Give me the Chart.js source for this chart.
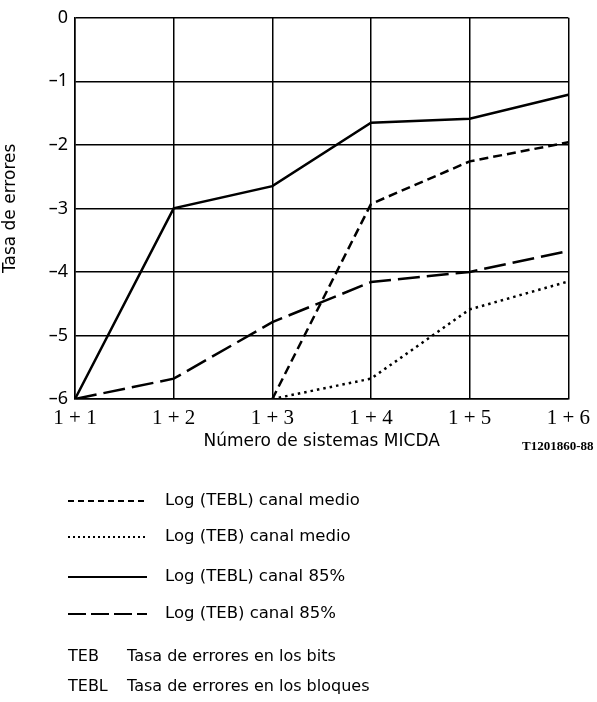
<!DOCTYPE html>
<html>
<head>
<meta charset="utf-8">
<script src="https://cdn.jsdelivr.net/npm/chart.js@4.4.0/dist/chart.umd.min.js"></script>
<style>
  html, body { margin: 0; padding: 0; background: #fff; }
  #wrap { position: relative; width: 597px; height: 702px; }
</style>
</head>
<body>
<div id="wrap"><canvas id="myChart" width="597" height="702"></canvas></div>
<script>
  // categorias y valores
  var categorias = ['1 + 1', '1 + 2', '1 + 3', '1 + 4', '1 + 5', '1 + 6'];
  var teblMedio = [null, null, -6, -2.93, -2.26, -1.96];
  var tebMedio = [null, null, -6, -5.68, -4.59, -4.15];
  var tebl85 = [-6, -3, -2.65, -1.65, -1.59, -1.21];
  var teb85 = [-6, -5.68, -4.79, -4.16, -4.0, -3.67];
  var yTicks = [0, -1, -2, -3, -4, -5, -6];

  var leyenda = [
    { texto: 'Log (TEBL) canal medio', dash: [6, 4], ancho: 2 },
    { texto: 'Log (TEB) canal medio', dash: [2, 3], ancho: 2 },
    { texto: 'Log (TEBL) canal 85%', dash: [], ancho: 2 },
    { texto: 'Log (TEB) canal 85%', dash: [18, 5], ancho: 2 }
  ];

  var sansFont = "'DejaVu Sans', sans-serif";

  var extras = {
    id: 'extras',
    afterDraw: function(chart) {
      var ctx = chart.ctx;
      ctx.save();
      ctx.fillStyle = '#000';
      ctx.font = "bold 13px 'Liberation Serif', serif";
      ctx.textBaseline = 'middle';
      ctx.textAlign = 'left';
      ctx.fillText('T1201860-88', 522, 447);

      var filas = [501, 537, 577, 614];
      ctx.font = '16.5px ' + sansFont;
      for (var i = 0; i < leyenda.length; i++) {
        var y = filas[i];
        ctx.beginPath();
        ctx.setLineDash(leyenda[i].dash);
        ctx.lineWidth = leyenda[i].ancho;
        ctx.strokeStyle = '#000';
        ctx.moveTo(68, y);
        ctx.lineTo(147, y);
        ctx.stroke();
        ctx.fillText(leyenda[i].texto, 165, y);
      }
      ctx.setLineDash([]);
      ctx.font = '16px ' + sansFont;
      ctx.fillText('TEB', 68, 657);
      ctx.fillText('Tasa de errores en los bits', 127, 657);
      ctx.fillText('TEBL', 68, 687);
      ctx.fillText('Tasa de errores en los bloques', 127, 687);
      ctx.restore();
    }
  };

  function serie(datos, dash, ancho) {
    return {
      data: datos,
      borderColor: '#000',
      borderWidth: ancho,
      borderDash: dash,
      pointRadius: 0,
      tension: 0,
      fill: false,
      spanGaps: false
    };
  }

  const ctx = document.getElementById('myChart');
  new Chart(ctx, {
    type: 'line',
    data: {
      labels: categorias,
      datasets: [
        serie(teblMedio, [9, 5], 2.5),
        serie(tebMedio, [2.5, 4], 2.5),
        serie(tebl85, [], 2.5),
        serie(teb85, [22, 7], 2.5)
      ]
    },
    options: {
      responsive: false,
      animation: false,
      devicePixelRatio: 1,
      layout: { padding: { left: 0, right: 27, top: 17, bottom: 242 } },
      plugins: { legend: { display: false }, tooltip: { enabled: false } },
      scales: {
        x: {
          offset: false,
          grid: { color: '#000', lineWidth: 1.5, drawTicks: false },
          border: { color: '#000', width: 1.5 },
          ticks: { color: '#000', padding: 7, font: { family: "'Liberation Serif', serif", size: 21 } },
          title: { display: true, text: 'Número de sistemas MICDA', color: '#000', padding: { top: 0, bottom: 8 }, font: { family: sansFont, size: 17 } },
          afterFit: function(scale) { scale.height = 61; }
        },
        y: {
          min: -6,
          max: 0,
          afterBuildTicks: function(scale) {
            scale.ticks = yTicks.map(function(v) { return { value: v }; });
          },
          grid: { color: '#000', lineWidth: 1.5, drawTicks: false },
          border: { color: '#000', width: 1.5 },
          ticks: {
            color: '#000',
            padding: 7,
            font: { family: "'Noto Sans', sans-serif", size: 18 },
            callback: function(v) { return v === 0 ? '0' : '\u2013' + Math.abs(v); }
          },
          title: { display: true, text: 'Tasa de errores', color: '#000', padding: { top: 0, bottom: 0 }, font: { family: sansFont, size: 17 } },
          afterFit: function(scale) { scale.width = 75; }
        }
      }
    },
    plugins: [extras]
  });
</script>
</body>
</html>
